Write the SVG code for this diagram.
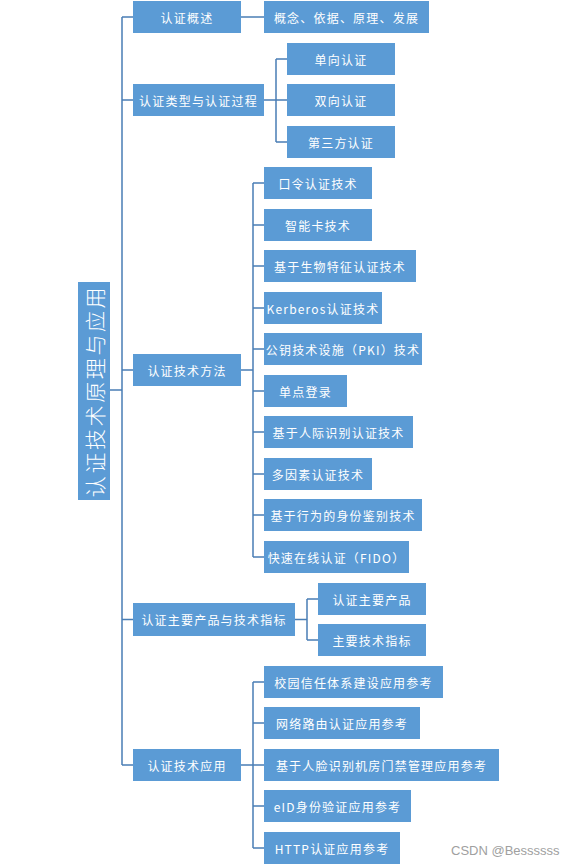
<svg xmlns="http://www.w3.org/2000/svg" width="576" height="864" viewBox="0 0 576 864">
<style>
.b{fill:#5B9BD5}
.t{fill:#fff;font-family:"Noto Sans CJK SC","Liberation Sans",sans-serif;font-size:12px;letter-spacing:1.2px;text-anchor:middle;dominant-baseline:central}
.r{fill:#fff;font-family:"Noto Sans CJK SC","Liberation Sans",sans-serif;font-size:21px;font-weight:300;letter-spacing:2.6px;text-anchor:middle;dominant-baseline:central}
.c{fill:none;stroke:#4A7EB5;stroke-width:1.5}
.w{fill:#a0a0a0;font-family:"Liberation Sans",sans-serif;font-size:13px}
</style>
<rect width="576" height="864" fill="#fff"/>
<g id="connectors">
<path class="c" d="M110 390H122M122 17V765M122 17H133M122 100H133M122 370H133M122 619.5H133M122 765H133"/>
<path class="c" d="M241 17H264"/>
<path class="c" d="M264 100H276M276 59V142M276 59H287M276 100H287M276 142H287"/>
<path class="c" d="M241 370H253M253 183V557M253 183H264M253 225H264M253 266H264M253 308H264M253 349H264M253 391H264M253 432H264M253 474H264M253 515H264M253 557H264"/>
<path class="c" d="M295 619.5H307M307 599V640M307 599H318M307 640H318"/>
<path class="c" d="M241 765H253M253 682V848M253 682H264M253 723H264M253 765H264M253 806H264M253 848H264"/>
</g>
<g id="root"><rect class="b" x="78" y="282" width="32" height="218"/><text class="r" transform="translate(94,391) rotate(-90)">认证技术原理与应用</text></g>
<g id="n1"><rect class="b" x="133" y="1" width="108" height="32"/><text class="t" x="187" y="17">认证概述</text></g>
<g id="n1a"><rect class="b" x="264" y="1" width="165" height="32"/><text class="t" x="346.5" y="17">概念、依据、原理、发展</text></g>
<g id="n2"><rect class="b" x="133" y="84" width="131" height="32"/><text class="t" x="198.5" y="100">认证类型与认证过程</text></g>
<g id="n2a"><rect class="b" x="287" y="43" width="108" height="32"/><text class="t" x="341" y="59">单向认证</text></g>
<g id="n2b"><rect class="b" x="287" y="84" width="108" height="32"/><text class="t" x="341" y="100">双向认证</text></g>
<g id="n2c"><rect class="b" x="287" y="126" width="108" height="32"/><text class="t" x="341" y="142">第三方认证</text></g>
<g id="n3"><rect class="b" x="133" y="354" width="108" height="32"/><text class="t" x="187" y="370">认证技术方法</text></g>
<g id="n3a"><rect class="b" x="264" y="167" width="108" height="32"/><text class="t" x="318" y="183">口令认证技术</text></g>
<g id="n3b"><rect class="b" x="264" y="209" width="108" height="32"/><text class="t" x="318" y="225">智能卡技术</text></g>
<g id="n3c"><rect class="b" x="264" y="250" width="152" height="32"/><text class="t" x="340" y="266">基于生物特征认证技术</text></g>
<g id="n3d"><rect class="b" x="264" y="292" width="118" height="32"/><text class="t" x="323" y="308">Kerberos认证技术</text></g>
<g id="n3e"><rect class="b" x="264" y="333" width="158" height="32"/><text class="t" x="343" y="349">公钥技术设施（PKI）技术</text></g>
<g id="n3f"><rect class="b" x="264" y="375" width="83" height="32"/><text class="t" x="305.5" y="391">单点登录</text></g>
<g id="n3g"><rect class="b" x="264" y="416" width="149" height="32"/><text class="t" x="338.5" y="432">基于人际识别认证技术</text></g>
<g id="n3h"><rect class="b" x="264" y="458" width="108" height="32"/><text class="t" x="318" y="474">多因素认证技术</text></g>
<g id="n3i"><rect class="b" x="264" y="499" width="158" height="32"/><text class="t" x="343" y="515">基于行为的身份鉴别技术</text></g>
<g id="n3j"><rect class="b" x="264" y="541" width="145" height="32"/><text class="t" x="336.5" y="557">快速在线认证（FIDO）</text></g>
<g id="n4"><rect class="b" x="133" y="603" width="162" height="33"/><text class="t" x="214" y="619.5">认证主要产品与技术指标</text></g>
<g id="n4a"><rect class="b" x="318" y="583" width="108" height="32"/><text class="t" x="372" y="599">认证主要产品</text></g>
<g id="n4b"><rect class="b" x="318" y="624" width="108" height="32"/><text class="t" x="372" y="640">主要技术指标</text></g>
<g id="n5"><rect class="b" x="133" y="749" width="108" height="32"/><text class="t" x="187" y="765">认证技术应用</text></g>
<g id="n5a"><rect class="b" x="264" y="666" width="179" height="32"/><text class="t" x="353.5" y="682">校园信任体系建设应用参考</text></g>
<g id="n5b"><rect class="b" x="264" y="707" width="156" height="32"/><text class="t" x="342" y="723">网络路由认证应用参考</text></g>
<g id="n5c"><rect class="b" x="264" y="749" width="235" height="32"/><text class="t" x="381.5" y="765">基于人脸识别机房门禁管理应用参考</text></g>
<g id="n5d"><rect class="b" x="264" y="790" width="147" height="32"/><text class="t" x="337.5" y="806">eID身份验证应用参考</text></g>
<g id="n5e"><rect class="b" x="264" y="832" width="136" height="32"/><text class="t" x="332" y="848">HTTP认证应用参考</text></g>
<text class="w" x="451" y="855">CSDN @Bessssss</text>
</svg>
